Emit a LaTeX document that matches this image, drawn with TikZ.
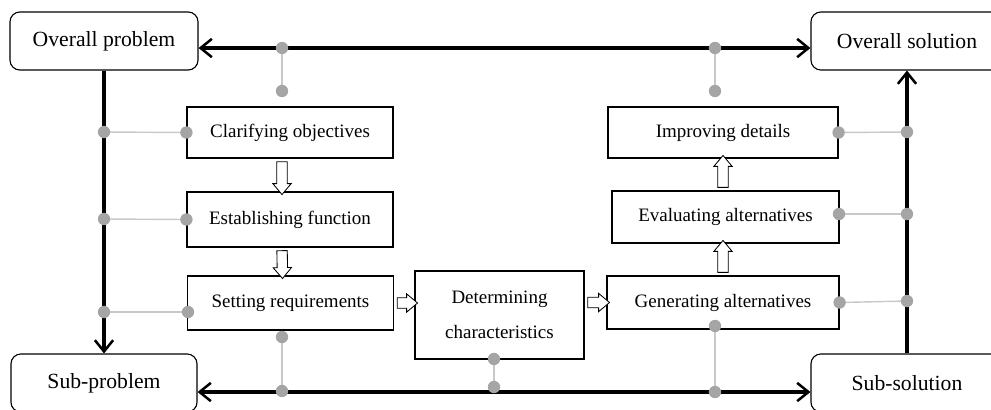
\documentclass[tikz,border=0pt]{standalone}
\usepackage{fontspec}
\setmainfont{Liberation Serif}
\usetikzlibrary{arrows.meta,shapes.arrows,calc}
\definecolor{dotgray}{RGB}{165,165,165}
\definecolor{linkgray}{RGB}{200,200,200}
\tikzset{
  outer/.style={draw,rounded corners=7pt,line width=0.8pt,minimum height=1.45cm,
    font=\fontsize{15.4}{18}\selectfont},
  stage/.style={draw,line width=0.8pt,font=\fontsize{13.5}{16}\selectfont},
  bigline/.style={line width=2.3pt},
  barb/.tip={Straight Barb[length=8pt,width=13pt,line width=1.8pt]},
  link/.style={linkgray,line width=1pt},
  hollow/.style={draw,fill=white,single arrow,inner xsep=0pt,inner ysep=3.4pt,line width=0.6pt,
    single arrow head extend=2.8pt,single arrow tip angle=80},
}
\newcommand{\flow}[2]{%
  \path let \p1=($(#2)-(#1)$), \n1={veclen(\x1,\y1)} in
    (#1) -- node[hollow,sloped,allow upside down,minimum height=\n1] {} (#2);}
\begin{document}
\begin{tikzpicture}[x=0.025cm,y=-0.025cm]
\clip (0,0) rectangle (991,409);
% corner boxes
\node[outer,minimum width=4.7cm] (oprob) at (104,41) {Overall problem};
\node[outer,minimum width=4.8cm] (osol) at (907,41) {Overall solution};
\node[outer,minimum width=4.65cm] (sprob) at (104,383) {Sub-problem};
\node[outer,minimum width=4.8cm] (ssol) at (907,383) {Sub-solution};
% stages
\node[stage,minimum width=5.15cm,minimum height=1.275cm] (clar) at (290,132.5) {Clarifying objectives};
\node[stage,minimum width=5.15cm,minimum height=1.375cm] (estab) at (290,219.5) {Establishing function};
\node[stage,minimum width=5.15cm,minimum height=1.35cm] (setreq) at (290.5,303) {Setting requirements};
\node[stage,minimum width=4.225cm,minimum height=2.2cm,align=center,
  font=\fontsize{13.5}{25}\selectfont] (detchar) at (499.5,315) {Determining\\characteristics};
\node[stage,minimum width=5.8cm,minimum height=1.325cm] (genalt) at (723,302.5) {Generating alternatives};
\node[stage,minimum width=5.675cm,minimum height=1.3cm] (evalalt) at (725.5,217) {Evaluating alternatives};
\node[stage,minimum width=5.75cm,minimum height=1.275cm] (impdet) at (723,132.5) {Improving details};
% main arrows
\draw[bigline,barb-barb] ([yshift=-5pt]oprob.east) -- ([yshift=-5pt]osol.west);
\draw[bigline,barb-barb] ([yshift=-6.4pt]sprob.east) -- ([yshift=-6.4pt]ssol.west);
\draw[bigline,-barb] (oprob.south) -- (sprob.north);
\draw[bigline,-barb] (ssol.north) -- (osol.south);
% grey links
\coordinate (T1) at (282,48);  \coordinate (T2) at (282,91);
\coordinate (T3) at (715,48);  \coordinate (T4) at (715,91);
\coordinate (L1) at (104,132); \coordinate (L2) at (104,219); \coordinate (L3) at (104,312);
\coordinate (L4) at (188,312);
\coordinate (R1) at (907,132); \coordinate (R2) at (907,214); \coordinate (R3) at (907,301);
\coordinate (R4) at (839,214);
\coordinate (B1) at (282,337); \coordinate (B2) at (282,391);
\coordinate (B3) at (494,359); \coordinate (B4) at (494,387);
\coordinate (B5) at (715,326); \coordinate (B6) at (715,392);
\draw[link] (T1) -- (T2);
\draw[link] (T3) -- (T4);
\draw[link] (L1) -- (clar.west);
\draw[link] (L2) -- (estab.west);
\draw[link] (L3) -- (L4);
\draw[link] (R1) -- (impdet.east);
\draw[link] (R2) -- (R4);
\draw[link] (R3) -- (genalt.east);
\draw[link] (B1) -- (B2);
\draw[link] (B3) -- (B4);
\draw[link] (B5) -- (B6);
\foreach \p in {T1,T2,T3,T4,L1,L2,L3,L4,R1,R2,R3,R4,B1,B2,B3,B4,B5,B6,
  clar.west,estab.west,impdet.east,genalt.east}
  \fill[dotgray] (\p) circle (4.4pt);
% hollow flow arrows
\flow{[xshift=-0.2cm]clar.south}{[xshift=-0.2cm]estab.north}
\flow{[xshift=-0.2cm]estab.south}{[xshift=-0.2cm]setreq.north}
\flow{setreq.east}{setreq.east -| detchar.west}
\flow{detchar.east |- genalt.west}{genalt.west}
\flow{genalt.north}{evalalt.south -| genalt.north}
\flow{impdet.south |- evalalt.north}{impdet.south}
\end{tikzpicture}
\end{document}
